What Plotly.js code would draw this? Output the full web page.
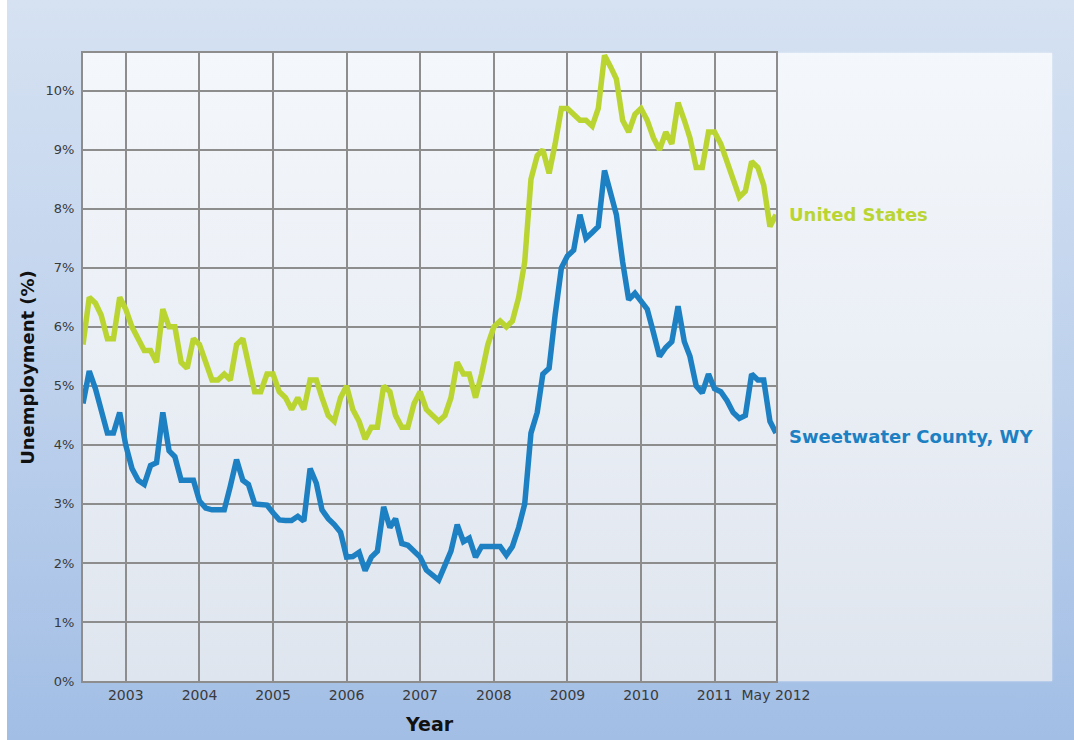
<!DOCTYPE html>
<html>
<head>
<meta charset="utf-8">
<script src="https://cdn.plot.ly/plotly-3.0.1.min.js"></script>
<style>
  html, body { margin: 0; padding: 0; width: 100%; height: 100%; overflow: hidden; }
  html { background: linear-gradient(to bottom, #d6e2f2 0%, #bcd0ec 55%, #a2bee5 100%) no-repeat; background-color: #a2bee5; }
  body { background: transparent; position: relative; }
  #strip { position: absolute; left: 0; top: 0; width: 7px; height: 740px; background: #ffffff; }
  #panel { position: absolute; left: 83px; top: 53px; width: 969px; height: 628px;
           background: linear-gradient(to bottom, #f4f7fb 0%, #e9eef5 55%, #dfe5ee 100%);
           box-shadow: 0 0 2px rgba(255,255,255,0.6); }
  #chart { position: absolute; left: 0; top: 0; width: 1074px; height: 740px; }
</style>
</head>
<body>
<div id="strip"></div>
<div id="panel"></div>
<div id="chart"></div>
<script>
// Monthly observations, Dec 2002 – May 2012
const months = [
  '2002-12',
  '2003-01','2003-02','2003-03','2003-04','2003-05','2003-06','2003-07','2003-08','2003-09','2003-10','2003-11','2003-12',
  '2004-01','2004-02','2004-03','2004-04','2004-05','2004-06','2004-07','2004-08','2004-09','2004-10','2004-11','2004-12',
  '2005-01','2005-02','2005-03','2005-04','2005-05','2005-06','2005-07','2005-08','2005-09','2005-10','2005-11','2005-12',
  '2006-01','2006-02','2006-03','2006-04','2006-05','2006-06','2006-07','2006-08','2006-09','2006-10','2006-11','2006-12',
  '2007-01','2007-02','2007-03','2007-04','2007-05','2007-06','2007-07','2007-08','2007-09','2007-10','2007-11','2007-12',
  '2008-01','2008-02','2008-03','2008-04','2008-05','2008-06','2008-07','2008-08','2008-09','2008-10','2008-11','2008-12',
  '2009-01','2009-02','2009-03','2009-04','2009-05','2009-06','2009-07','2009-08','2009-09','2009-10','2009-11','2009-12',
  '2010-01','2010-02','2010-03','2010-04','2010-05','2010-06','2010-07','2010-08','2010-09','2010-10','2010-11','2010-12',
  '2011-01','2011-02','2011-03','2011-04','2011-05','2011-06','2011-07','2011-08','2011-09','2011-10','2011-11','2011-12',
  '2012-01','2012-02','2012-03','2012-04','2012-05'
];

const unitedStates = [
  5.7,
  6.5, 6.4, 6.2, 5.8, 5.8, 6.5, 6.3, 6.0, 5.8, 5.6, 5.6, 5.4,
  6.3, 6.0, 6.0, 5.4, 5.3, 5.8, 5.7, 5.4, 5.1, 5.1, 5.2, 5.1,
  5.7, 5.8, 5.4, 4.9, 4.9, 5.2, 5.2, 4.9, 4.8, 4.6, 4.8, 4.6,
  5.1, 5.1, 4.8, 4.5, 4.4, 4.8, 5.0, 4.6, 4.4, 4.1, 4.3, 4.3,
  5.0, 4.9, 4.5, 4.3, 4.3, 4.7, 4.9, 4.6, 4.5, 4.4, 4.5, 4.8,
  5.4, 5.2, 5.2, 4.8, 5.2, 5.7, 6.0, 6.1, 6.0, 6.1, 6.5, 7.1,
  8.5, 8.9, 9.0, 8.6, 9.1, 9.7, 9.7, 9.6, 9.5, 9.5, 9.4, 9.7,
  10.6, 10.4, 10.2, 9.5, 9.3, 9.6, 9.7, 9.5, 9.2, 9.0, 9.3, 9.1,
  9.8, 9.5, 9.2, 8.7, 8.7, 9.3, 9.3, 9.1, 8.8, 8.5, 8.2, 8.3,
  8.8, 8.7, 8.4, 7.7, 7.9
];

const sweetwater = [
  4.7,
  5.25, 4.95, 4.55, 4.2, 4.2, 4.55, 4.0, 3.6, 3.4, 3.33, 3.65, 3.7,
  4.55, 3.9, 3.8, 3.4, 3.4, 3.4, 3.05, 2.93, 2.9, 2.9, 2.9, 3.3,
  3.75, 3.4, 3.33, 3.0, 2.98, 2.98, 2.85, 2.73, 2.72, 2.72, 2.79, 2.71,
  3.6, 3.35, 2.9, 2.75, 2.65, 2.52, 2.1, 2.11, 2.18, 1.87, 2.1, 2.2,
  2.95, 2.6, 2.75, 2.33, 2.3, 2.2, 2.1, 1.88, 1.79, 1.71, 1.96, 2.2,
  2.65, 2.36, 2.42, 2.1, 2.28, 2.28, 2.28, 2.28, 2.13, 2.28, 2.6, 3.0,
  4.2, 4.55, 5.2, 5.3, 6.2, 7.0, 7.2, 7.3, 7.9, 7.5, 7.6, 7.7,
  8.65, 8.25, 7.9, 7.1, 6.46, 6.57, 6.45, 6.3, 5.9, 5.5, 5.65, 5.75,
  6.35, 5.75, 5.5, 5.0, 4.88, 5.2, 4.95, 4.9, 4.75, 4.55, 4.45, 4.5,
  5.2, 5.1, 5.1, 4.4, 4.2
];

const xTickVals = ['2003-07-01','2004-07-01','2005-07-01','2006-07-01','2007-07-01',
                   '2008-07-01','2009-07-01','2010-07-01','2011-07-01','2012-05-01'];
const xTickText = ['2003','2004','2005','2006','2007','2008','2009','2010','2011','May 2012'];
const yTickVals = [0, 1, 2, 3, 4, 5, 6, 7, 8, 9, 10];
const yTickText = ['0%','1%','2%','3%','4%','5%','6%','7%','8%','9%','10%'];

const seriesNames = ['United States', 'Sweetwater County, WY'];
const seriesColors = ['#bad532', '#1d80c2'];

const FONT = 'DejaVu Sans, Verdana, sans-serif';

const traces = [
  { x: months, y: sweetwater, name: seriesNames[1], type: 'scatter', mode: 'lines',
    line: { color: seriesColors[1], width: 5.5, shape: 'linear' }, hoverinfo: 'skip' },
  { x: months, y: unitedStates, name: seriesNames[0], type: 'scatter', mode: 'lines',
    line: { color: seriesColors[0], width: 5.5, shape: 'linear' }, hoverinfo: 'skip' }
];

const layout = {
  width: 1074, height: 740,
  margin: { l: 83, r: 298, t: 53, b: 59, pad: 0 },
  paper_bgcolor: 'rgba(0,0,0,0)',
  plot_bgcolor: 'rgba(0,0,0,0)',
  showlegend: false,
  font: { family: FONT, color: '#3a3a3a' },
  xaxis: {
    type: 'date',
    range: ['2002-12-01', '2012-05-01'],
    tickmode: 'array', tickvals: xTickVals, ticktext: xTickText,
    showgrid: true, gridcolor: '#8d8d8d', gridwidth: 2,
    showline: true, linecolor: '#8d8d8d', linewidth: 2, mirror: true,
    ticks: '', zeroline: false,
    tickfont: { family: FONT, size: 14, color: '#3a3a3a' },
    fixedrange: true
  },
  yaxis: {
    range: [0, 10.64],
    tickmode: 'array', tickvals: yTickVals, ticktext: yTickText,
    showgrid: true, gridcolor: '#8d8d8d', gridwidth: 2,
    showline: true, linecolor: '#8d8d8d', linewidth: 2, mirror: true,
    ticks: 'outside', ticklen: 4, tickcolor: 'rgba(0,0,0,0)',
    zeroline: false,
    tickfont: { family: FONT, size: 13, color: '#3a3a3a' },
    fixedrange: true
  },
  annotations: [
    { text: '<b>' + seriesNames[0] + '</b>', xref: 'paper', yref: 'y', x: 1.016, y: 7.9,
      xanchor: 'left', yanchor: 'middle', showarrow: false,
      font: { family: FONT, size: 18, color: seriesColors[0] } },
    { text: '<b>' + seriesNames[1] + '</b>', xref: 'paper', yref: 'y', x: 1.016, y: 4.14,
      xanchor: 'left', yanchor: 'middle', showarrow: false,
      font: { family: FONT, size: 18, color: seriesColors[1] } },
    { text: '<b>Unemployment (%)</b>', xref: 'paper', yref: 'paper', x: -0.081, y: 0.5,
      xanchor: 'center', yanchor: 'middle', textangle: -90, showarrow: false,
      font: { family: FONT, size: 18, color: '#111111' } },
    { text: '<b>Year</b>', xref: 'paper', yref: 'paper', x: 0.5, y: -0.068,
      xanchor: 'center', yanchor: 'middle', showarrow: false,
      font: { family: FONT, size: 19, color: '#111111' } }
  ]
};

Plotly.newPlot('chart', traces, layout, { displayModeBar: false, staticPlot: true });
</script>
</body>
</html>
